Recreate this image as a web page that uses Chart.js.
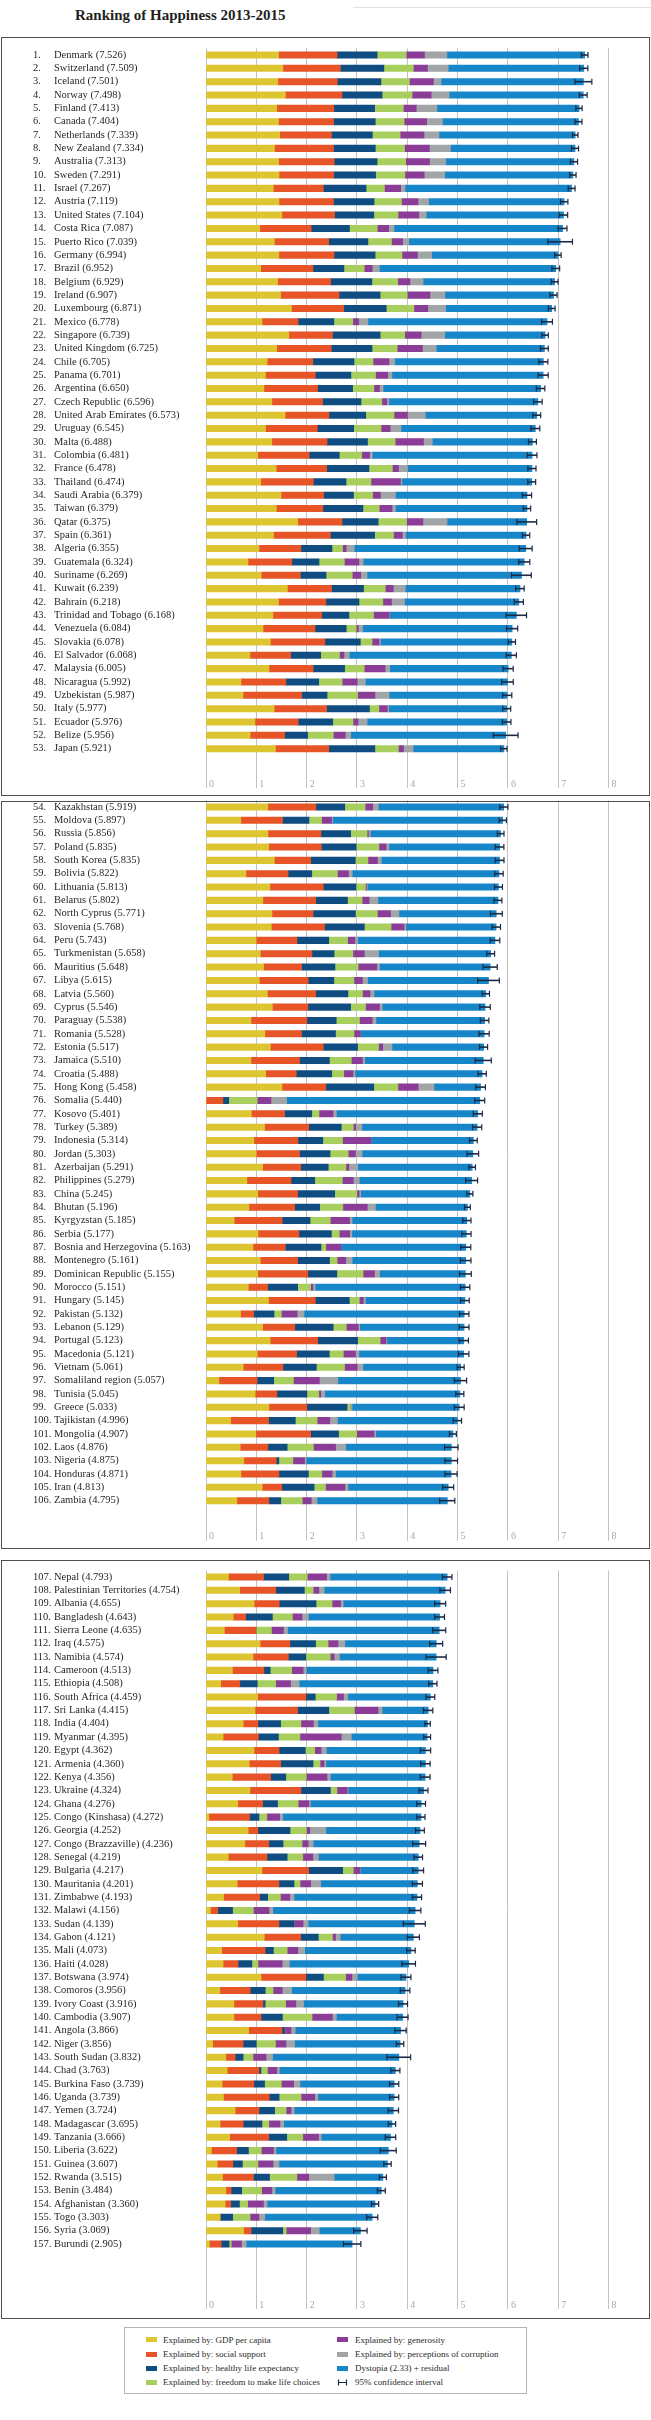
<!DOCTYPE html>
<html>
<head>
<meta charset="utf-8">
<title>Ranking of Happiness 2013-2015</title>
<script src="https://cdn.jsdelivr.net/npm/chart.js@4.4.1/dist/chart.umd.min.js"></script>
<style>
  html, body { margin:0; padding:0; background:#fff; }
  body { position:relative; width:651px; height:2420px; overflow:hidden; font-family:"Liberation Serif", "DejaVu Serif", serif; color:#231f20; }
  #title { position:absolute; left:75px; top:6px; font-size:15px; line-height:18px; font-weight:bold; white-space:nowrap; }
  #topline { position:absolute; left:353px; top:7px; width:298px; height:0; border-top:1px solid #e2e2e2; }
  .panel { position:absolute; left:1px; width:649px; box-sizing:border-box; border:1.5px solid #4f4f4f; pointer-events:none; }
  canvas.chart { position:absolute; left:0; }
  #legend { position:absolute; left:124px; top:2327px; width:403px; height:67px; box-sizing:border-box; border:1px solid #b4b4b4; }
  .li { position:absolute; font-size:9px; line-height:12px; height:12px; white-space:nowrap; color:#2b2b2b; }
  .sw { position:absolute; width:11px; height:5px; }
</style>
</head>
<body>
<div id="title">Ranking of Happiness 2013-2015</div>
<div id="topline"></div>
<div id="legend"></div>
<script>
// ---------------- DATA ----------------
const countries = [
 'Denmark','Switzerland','Iceland','Norway','Finland','Canada','Netherlands','New Zealand','Australia','Sweden',
 'Israel','Austria','United States','Costa Rica','Puerto Rico','Germany','Brazil','Belgium','Ireland','Luxembourg',
 'Mexico','Singapore','United Kingdom','Chile','Panama','Argentina','Czech Republic','United Arab Emirates','Uruguay','Malta',
 'Colombia','France','Thailand','Saudi Arabia','Taiwan','Qatar','Spain','Algeria','Guatemala','Suriname',
 'Kuwait','Bahrain','Trinidad and Tobago','Venezuela','Slovakia','El Salvador','Malaysia','Nicaragua','Uzbekistan','Italy',
 'Ecuador','Belize','Japan',
 'Kazakhstan','Moldova','Russia','Poland','South Korea','Bolivia','Lithuania','Belarus','North Cyprus','Slovenia',
 'Peru','Turkmenistan','Mauritius','Libya','Latvia','Cyprus','Paraguay','Romania','Estonia','Jamaica',
 'Croatia','Hong Kong','Somalia','Kosovo','Turkey','Indonesia','Jordan','Azerbaijan','Philippines','China',
 'Bhutan','Kyrgyzstan','Serbia','Bosnia and Herzegovina','Montenegro','Dominican Republic','Morocco','Hungary','Pakistan','Lebanon',
 'Portugal','Macedonia','Vietnam','Somaliland region','Tunisia','Greece','Tajikistan','Mongolia','Laos','Nigeria',
 'Honduras','Iran','Zambia',
 'Nepal','Palestinian Territories','Albania','Bangladesh','Sierra Leone','Iraq','Namibia','Cameroon','Ethiopia','South Africa',
 'Sri Lanka','India','Myanmar','Egypt','Armenia','Kenya','Ukraine','Ghana','Congo (Kinshasa)','Georgia',
 'Congo (Brazzaville)','Senegal','Bulgaria','Mauritania','Zimbabwe','Malawi','Sudan','Gabon','Mali','Haiti',
 'Botswana','Comoros','Ivory Coast','Cambodia','Angola','Niger','South Sudan','Chad','Burkina Faso','Uganda',
 'Yemen','Madagascar','Tanzania','Liberia','Guinea','Rwanda','Benin','Afghanistan','Togo','Syria',
 'Burundi'
];
const scores = [
 7.526,7.509,7.501,7.498,7.413,7.404,7.339,7.334,7.313,7.291,
 7.267,7.119,7.104,7.087,7.039,6.994,6.952,6.929,6.907,6.871,
 6.778,6.739,6.725,6.705,6.701,6.650,6.596,6.573,6.545,6.488,
 6.481,6.478,6.474,6.379,6.379,6.375,6.361,6.355,6.324,6.269,
 6.239,6.218,6.168,6.084,6.078,6.068,6.005,5.992,5.987,5.977,
 5.976,5.956,5.921,
 5.919,5.897,5.856,5.835,5.835,5.822,5.813,5.802,5.771,5.768,
 5.743,5.658,5.648,5.615,5.560,5.546,5.538,5.528,5.517,5.510,
 5.488,5.458,5.440,5.401,5.389,5.314,5.303,5.291,5.279,5.245,
 5.196,5.185,5.177,5.163,5.161,5.155,5.151,5.145,5.132,5.129,
 5.123,5.121,5.061,5.057,5.045,5.033,4.996,4.907,4.876,4.875,
 4.871,4.813,4.795,
 4.793,4.754,4.655,4.643,4.635,4.575,4.574,4.513,4.508,4.459,
 4.415,4.404,4.395,4.362,4.360,4.356,4.324,4.276,4.272,4.252,
 4.236,4.219,4.217,4.201,4.193,4.156,4.139,4.121,4.073,4.028,
 3.974,3.956,3.916,3.907,3.866,3.856,3.832,3.763,3.739,3.739,
 3.724,3.695,3.666,3.622,3.607,3.515,3.484,3.360,3.303,3.069,
 2.905
];
const gdp = [
 1.442,1.527,1.427,1.577,1.406,1.440,1.465,1.361,1.444,1.452,
 1.338,1.450,1.508,1.069,1.359,1.448,1.088,1.425,1.483,1.698,
 1.115,1.646,1.403,1.217,1.183,1.151,1.309,1.574,1.182,1.308,
 1.030,1.395,1.089,1.490,1.397,1.824,1.343,1.053,0.835,1.097,
 1.617,1.440,1.330,1.134,1.280,0.874,1.251,0.694,0.736,1.355,
 0.973,0.876,1.380,
 1.229,0.692,1.232,1.246,1.359,0.794,1.269,1.131,1.311,1.299,
 0.996,1.080,1.144,1.060,1.220,1.319,0.894,1.170,1.280,0.893,
 1.186,1.511,0.000,0.901,1.165,0.951,0.997,1.124,0.812,1.028,
 0.853,0.560,1.034,0.934,1.078,1.028,0.841,1.241,0.688,1.123,
 1.276,1.020,0.740,0.256,0.977,1.249,0.488,0.989,0.680,0.752,
 0.694,1.118,0.612,
 0.446,0.670,0.955,0.542,0.365,1.075,0.933,0.525,0.293,1.024,
 0.973,0.740,0.341,0.954,0.861,0.523,0.873,0.631,0.057,0.838,
 0.771,0.443,1.113,0.620,0.350,0.087,0.631,1.159,0.313,0.341,
 1.094,0.275,0.555,0.556,0.847,0.133,0.394,0.422,0.320,0.347,
 0.579,0.280,0.472,0.107,0.224,0.328,0.395,0.382,0.281,0.747,
 0.068
];
const socialSupport = [
 1.164,1.145,1.183,1.127,1.135,1.096,1.029,1.173,1.105,1.088,
 0.995,1.084,1.048,1.022,1.081,1.098,1.039,1.052,1.162,1.040,
 0.715,0.868,1.087,0.906,0.989,1.066,1.008,0.871,1.031,1.099,
 1.022,1.005,1.045,0.848,0.926,0.880,1.129,0.833,0.871,0.779,
 0.878,0.944,0.970,1.033,1.083,0.810,0.880,0.895,1.168,1.042,
 0.860,0.687,1.061,
 0.955,0.831,1.053,1.047,0.722,0.838,1.064,1.050,0.818,1.056,
 0.813,1.026,0.757,0.970,0.960,0.707,1.111,0.728,1.052,0.964,
 0.608,0.870,0.336,0.661,0.877,0.876,0.862,0.760,0.879,0.794,
 0.908,0.954,0.813,0.644,0.742,0.995,0.386,0.932,0.261,0.642,
 0.944,0.780,0.791,0.759,0.432,0.755,0.756,1.090,0.550,0.645,
 0.756,0.389,0.638,
 0.697,0.716,0.502,0.247,0.628,0.592,0.704,0.625,0.379,0.961,
 0.848,0.292,0.700,0.498,0.625,0.762,1.014,0.494,0.807,0.192,
 0.478,0.770,0.925,0.830,0.715,0.147,0.819,0.724,0.863,0.296,
 0.892,0.603,0.576,0.538,0.664,0.605,0.185,0.632,0.631,0.910,
 0.475,0.461,0.776,0.504,0.311,0.616,0.104,0.110,0.000,0.149,
 0.234
];
const lifeExpectancy = [
 0.795,0.863,0.867,0.796,0.811,0.828,0.812,0.831,0.851,0.831,
 0.849,0.806,0.779,0.761,0.778,0.815,0.614,0.820,0.815,0.845,
 0.711,0.947,0.810,0.819,0.708,0.697,0.764,0.730,0.722,0.803,
 0.597,0.838,0.649,0.593,0.796,0.717,0.879,0.618,0.540,0.509,
 0.636,0.657,0.540,0.619,0.704,0.596,0.624,0.652,0.502,0.851,
 0.686,0.456,0.915,
 0.574,0.523,0.590,0.691,0.886,0.470,0.647,0.631,0.841,0.792,
 0.630,0.440,0.662,0.510,0.640,0.849,0.583,0.676,0.681,0.595,
 0.705,0.953,0.115,0.540,0.647,0.494,0.607,0.545,0.470,0.736,
 0.498,0.554,0.645,0.708,0.635,0.577,0.595,0.676,0.403,0.762,
 0.794,0.650,0.662,0.331,0.596,0.800,0.531,0.555,0.383,0.051,
 0.584,0.642,0.236,
 0.501,0.568,0.730,0.530,0.000,0.511,0.347,0.127,0.346,0.186,
 0.620,0.451,0.399,0.521,0.641,0.301,0.586,0.297,0.188,0.640,
 0.282,0.400,0.678,0.300,0.160,0.294,0.298,0.349,0.163,0.275,
 0.348,0.300,0.045,0.425,0.050,0.262,0.158,0.038,0.213,0.196,
 0.310,0.371,0.357,0.232,0.188,0.319,0.210,0.173,0.248,0.630,
 0.157
];
const freedom = [
 0.579,0.586,0.566,0.596,0.571,0.574,0.552,0.581,0.568,0.582,
 0.364,0.544,0.482,0.552,0.468,0.535,0.404,0.514,0.540,0.549,
 0.377,0.488,0.500,0.378,0.489,0.423,0.414,0.562,0.544,0.550,
 0.447,0.466,0.496,0.379,0.324,0.567,0.375,0.210,0.504,0.522,
 0.432,0.474,0.490,0.198,0.234,0.373,0.390,0.466,0.608,0.188,
 0.403,0.512,0.468,
 0.405,0.252,0.327,0.452,0.252,0.510,0.189,0.291,0.436,0.532,
 0.375,0.374,0.461,0.400,0.290,0.295,0.462,0.367,0.415,0.436,
 0.239,0.481,0.568,0.144,0.239,0.392,0.360,0.353,0.549,0.440,
 0.461,0.402,0.157,0.095,0.151,0.523,0.256,0.198,0.146,0.262,
 0.447,0.280,0.560,0.391,0.236,0.058,0.434,0.360,0.522,0.279,
 0.268,0.227,0.427,
 0.370,0.177,0.319,0.398,0.307,0.249,0.486,0.427,0.367,0.425,
 0.508,0.403,0.427,0.188,0.140,0.406,0.129,0.410,0.156,0.325,
 0.379,0.310,0.212,0.120,0.254,0.414,0.000,0.281,0.275,0.121,
 0.441,0.154,0.407,0.589,0.006,0.380,0.197,0.128,0.334,0.437,
 0.229,0.137,0.318,0.257,0.310,0.543,0.397,0.164,0.347,0.069,
 0.043
];
const generosity = [
 0.362,0.281,0.477,0.379,0.255,0.448,0.474,0.494,0.474,0.383,
 0.323,0.329,0.411,0.226,0.222,0.305,0.158,0.242,0.450,0.276,
 0.117,0.327,0.502,0.316,0.242,0.110,0.099,0.266,0.181,0.562,
 0.156,0.122,0.587,0.155,0.255,0.324,0.177,0.070,0.288,0.167,
 0.160,0.171,0.310,0.043,0.138,0.089,0.415,0.298,0.343,0.167,
 0.101,0.237,0.102,
 0.150,0.200,0.027,0.144,0.188,0.217,0.020,0.139,0.263,0.257,
 0.145,0.226,0.370,0.170,0.150,0.279,0.253,0.129,0.084,0.222,
 0.184,0.401,0.272,0.280,0.047,0.565,0.143,0.056,0.217,0.045,
 0.485,0.384,0.207,0.299,0.172,0.225,0.045,0.080,0.312,0.237,
 0.117,0.240,0.251,0.515,0.039,0.000,0.252,0.345,0.440,0.232,
 0.204,0.385,0.179,
 0.382,0.112,0.168,0.191,0.239,0.196,0.078,0.227,0.295,0.137,
 0.470,0.250,0.820,0.127,0.078,0.413,0.204,0.212,0.255,0.068,
 0.121,0.200,0.128,0.210,0.185,0.310,0.181,0.062,0.211,0.480,
 0.124,0.183,0.203,0.403,0.121,0.210,0.259,0.187,0.244,0.271,
 0.098,0.220,0.315,0.241,0.299,0.236,0.202,0.313,0.175,0.484,
 0.203
];
const corruption = [
 0.445,0.412,0.150,0.358,0.410,0.313,0.299,0.419,0.323,0.409,
 0.087,0.213,0.149,0.105,0.123,0.286,0.142,0.262,0.298,0.353,
 0.184,0.470,0.274,0.115,0.084,0.073,0.040,0.356,0.214,0.176,
 0.054,0.178,0.028,0.300,0.066,0.480,0.061,0.162,0.087,0.127,
 0.237,0.258,0.012,0.083,0.029,0.106,0.091,0.163,0.283,0.026,
 0.180,0.108,0.190,
 0.111,0.019,0.036,0.055,0.077,0.077,0.018,0.175,0.166,0.036,
 0.053,0.285,0.052,0.100,0.080,0.052,0.074,0.007,0.185,0.043,
 0.040,0.316,0.312,0.065,0.123,0.003,0.133,0.179,0.118,0.030,
 0.162,0.048,0.043,0.000,0.127,0.103,0.046,0.040,0.139,0.031,
 0.015,0.070,0.116,0.368,0.082,0.041,0.151,0.032,0.200,0.031,
 0.069,0.060,0.115,
 0.070,0.106,0.053,0.126,0.082,0.136,0.104,0.061,0.172,0.084,
 0.080,0.087,0.202,0.104,0.036,0.067,0.018,0.031,0.061,0.319,
 0.098,0.110,0.006,0.200,0.086,0.076,0.100,0.093,0.136,0.145,
 0.108,0.184,0.154,0.081,0.084,0.172,0.130,0.050,0.125,0.064,
 0.059,0.075,0.051,0.049,0.119,0.505,0.067,0.071,0.116,0.172,
 0.094
];
const dystopia = [
 2.739,2.695,2.831,2.665,2.826,2.705,2.707,2.476,2.547,2.547,
 3.310,2.693,2.728,3.352,3.008,2.509,3.507,2.614,2.160,2.111,
 3.559,1.994,2.150,2.955,3.006,3.130,2.962,2.215,2.671,1.990,
 3.175,2.474,2.580,2.615,2.615,1.582,2.397,3.409,3.199,3.069,
 2.281,2.274,2.516,2.975,2.611,3.221,2.354,2.824,2.346,2.349,
 2.774,3.080,1.806,
 2.493,3.380,2.591,2.200,2.350,2.916,2.605,2.386,1.933,1.794,
 2.731,2.227,2.202,2.405,2.220,2.045,2.161,2.452,1.821,2.357,
 2.525,0.926,3.838,2.810,2.291,2.032,2.201,2.274,2.235,2.172,
 1.829,2.281,2.275,2.484,2.255,1.704,2.982,1.978,3.183,2.073,
 1.530,2.081,1.942,2.438,2.684,2.129,2.384,1.537,2.101,2.886,
 2.296,1.992,2.590,
 2.327,2.404,1.928,2.609,3.014,1.817,1.922,2.521,2.656,1.642,
 0.917,2.180,1.507,1.969,1.979,1.883,1.501,2.202,2.749,1.870,
 2.107,1.986,1.154,1.921,2.443,2.829,2.110,1.453,2.112,2.371,
 0.967,2.257,1.976,1.316,2.095,2.095,2.509,2.306,1.873,1.514,
 1.973,2.151,1.378,2.233,2.156,0.968,2.108,2.146,2.135,0.818,
 2.104
];
const ciLow = [
 7.460,7.428,7.333,7.421,7.351,7.335,7.284,7.264,7.241,7.227,
 7.199,7.045,7.020,6.999,6.794,6.930,6.875,6.861,6.836,6.804,
 6.670,6.674,6.647,6.615,6.601,6.565,6.511,6.494,6.456,6.409,
 6.384,6.397,6.396,6.287,6.305,6.178,6.288,6.227,6.213,6.073,
 6.154,6.128,5.965,5.973,6.005,5.967,5.904,5.877,5.896,5.898,
 5.891,5.710,5.858,
 5.837,5.823,5.789,5.749,5.747,5.737,5.734,5.723,5.653,5.683,
 5.647,5.580,5.507,5.400,5.486,5.442,5.453,5.427,5.437,5.350,
 5.405,5.362,5.341,5.310,5.298,5.237,5.187,5.226,5.160,5.185,
 5.138,5.103,5.086,5.063,5.055,5.037,5.058,5.058,5.038,5.031,
 5.030,5.017,4.991,4.934,4.965,4.935,4.913,4.838,4.742,4.750,
 4.750,4.703,4.645,
 4.698,4.649,4.546,4.546,4.505,4.446,4.374,4.417,4.425,4.371,
 4.322,4.351,4.327,4.259,4.266,4.259,4.236,4.189,4.191,4.164,
 4.107,4.134,4.109,4.100,4.101,4.041,3.920,4.000,3.988,3.893,
 3.875,3.860,3.826,3.798,3.753,3.781,3.596,3.672,3.647,3.647,
 3.621,3.621,3.561,3.463,3.533,3.444,3.404,3.288,3.192,2.936,
 2.732
];
const ciHigh = [
 7.592,7.590,7.669,7.575,7.475,7.473,7.394,7.404,7.385,7.355,
 7.335,7.193,7.188,7.175,7.284,7.058,7.029,6.997,6.978,6.938,
 6.886,6.804,6.803,6.795,6.801,6.735,6.681,6.652,6.634,6.567,
 6.578,6.559,6.552,6.471,6.453,6.572,6.434,6.483,6.435,6.465,
 6.324,6.308,6.371,6.195,6.151,6.169,6.106,6.107,6.078,6.056,
 6.061,6.202,5.984,
 6.001,5.971,5.923,5.921,5.923,5.907,5.892,5.881,5.889,5.853,
 5.839,5.736,5.789,5.830,5.634,5.650,5.623,5.629,5.597,5.670,
 5.571,5.554,5.539,5.492,5.480,5.391,5.419,5.356,5.398,5.305,
 5.254,5.267,5.268,5.263,5.267,5.273,5.244,5.232,5.226,5.227,
 5.216,5.225,5.131,5.180,5.125,5.131,5.079,4.976,5.010,5.000,
 4.992,4.923,4.945,
 4.888,4.859,4.764,4.740,4.765,4.704,4.774,4.609,4.591,4.547,
 4.508,4.457,4.463,4.465,4.454,4.453,4.412,4.363,4.353,4.340,
 4.365,4.304,4.325,4.302,4.285,4.271,4.358,4.242,4.158,4.163,
 4.073,4.052,4.006,4.016,3.979,3.931,4.068,3.854,3.831,3.831,
 3.827,3.769,3.771,3.781,3.681,3.586,3.564,3.432,3.414,3.202,
 3.078
];
const seriesLabels = [
 'Explained by: GDP per capita',
 'Explained by: social support',
 'Explained by: healthy life expectancy',
 'Explained by: freedom to make life choices',
 'Explained by: generosity',
 'Explained by: perceptions of corruption',
 'Dystopia (2.33) + residual'
];
const seriesColors = ['#dcc530','#e65428','#0f4c81','#a8cf5e','#8a3c96','#a2a5a8','#1786c8'];
const ciLabel = '95% confidence interval';
const ciColor = '#1b2b47';
const xMin = 0, xMax = 8, xStep = 1;

// ---------------- LAYOUT ----------------
const seriesValues = [gdp, socialSupport, lifeExpectancy, freedom, generosity, corruption, dystopia];
const ROW_PX = 13.34;
const PLOT_LEFT = 206, PLOT_RIGHT = 608.5, PAGE_W = 651;
// canvas top/height (page px), y of the first row centre and bottom end of the grid lines
const panelLayout = [
  {first:1,   last:53,  canvasTop:37,   canvasH:759, boxTop:37,   boxH:759, firstRowY:55,   gridBottom:788},
  {first:54,  last:106, canvasTop:800,  canvasH:749, boxTop:801,  boxH:748, firstRowY:807,  gridBottom:1540.7},
  {first:107, last:157, canvasTop:1560, canvasH:759, boxTop:1560, boxH:759, firstRowY:1577, gridBottom:2309}
];

const rowLabelPlugin = {
  id: 'rowLabels',
  afterDraw(chart, args, opts) {
    const ctx = chart.ctx, y = chart.scales.y;
    ctx.save();
    ctx.font = '10.5px "Liberation Serif"';
    ctx.fillStyle = '#231f20';
    ctx.textBaseline = 'middle';
    ctx.textAlign = 'left';
    for (let r = opts.first; r <= opts.last; r++) {
      const py = y.getPixelForValue(r - opts.first);
      ctx.fillText(r + '.', 33, py);
      ctx.fillText(countries[r - 1] + ' (' + scores[r - 1].toFixed(3) + ')', 54, py);
    }
    ctx.restore();
  }
};

const ciPlugin = {
  id: 'ciWhiskers',
  afterDatasetsDraw(chart, args, opts) {
    const ctx = chart.ctx, x = chart.scales.x, y = chart.scales.y;
    ctx.save();
    ctx.strokeStyle = ciColor;
    for (let r = opts.first; r <= opts.last; r++) {
      const py = y.getPixelForValue(r - opts.first);
      const a = x.getPixelForValue(ciLow[r - 1]);
      const b = x.getPixelForValue(ciHigh[r - 1]);
      ctx.lineWidth = 1.6;
      ctx.beginPath();
      ctx.moveTo(a, py); ctx.lineTo(b, py);
      ctx.stroke();
      ctx.lineWidth = 1.2;
      ctx.beginPath();
      ctx.moveTo(a, py - 3); ctx.lineTo(a, py + 3);
      ctx.moveTo(b, py - 3); ctx.lineTo(b, py + 3);
      ctx.stroke();
    }
    ctx.restore();
  }
};

function buildPanel(p) {
  const canvas = document.createElement('canvas');
  canvas.className = 'chart';
  canvas.width = PAGE_W;
  canvas.height = p.canvasH;
  canvas.style.top = p.canvasTop + 'px';
  canvas.style.width = PAGE_W + 'px';
  canvas.style.height = p.canvasH + 'px';
  document.body.appendChild(canvas);

  const frame = document.createElement('div');
  frame.className = 'panel';
  frame.style.top = p.boxTop + 'px';
  frame.style.height = p.boxH + 'px';
  document.body.appendChild(frame);

  const ranks = [];
  for (let r = p.first; r <= p.last; r++) ranks.push(String(r));
  const n = ranks.length;
  const areaTop = p.firstRowY - ROW_PX / 2 - p.canvasTop;
  const areaBottom = areaTop + n * ROW_PX;
  const gridBottomC = p.gridBottom - p.canvasTop;
  const tickLen = gridBottomC - areaBottom;
  const labelCenter = gridBottomC - 4;
  const tickPad = labelCenter - areaBottom - tickLen - 6;

  const datasets = seriesValues.map((vals, i) => ({
    label: seriesLabels[i],
    data: vals.slice(p.first - 1, p.last),
    backgroundColor: seriesColors[i],
    borderWidth: 0,
    barThickness: 6.4
  }));

  new Chart(canvas, {
    type: 'bar',
    data: {labels: ranks, datasets},
    options: {
      indexAxis: 'y',
      responsive: false,
      animation: false,
      events: [],
      layout: {padding: {left: PLOT_LEFT, right: PAGE_W - PLOT_RIGHT, top: areaTop, bottom: 0}},
      plugins: {
        legend: {display: false},
        tooltip: {enabled: false},
        rowLabels: {first: p.first, last: p.last},
        ciWhiskers: {first: p.first, last: p.last}
      },
      scales: {
        x: {
          type: 'linear', stacked: true, min: xMin, max: xMax, position: 'bottom',
          ticks: {stepSize: xStep, color: '#a9a9a9', font: {family: 'Liberation Serif', size: 10},
                  align: 'start', labelOffset: 3, padding: tickPad, autoSkip: false, maxRotation: 0},
          grid: {color: '#c2c2c2', lineWidth: 1, drawTicks: true, tickLength: tickLen, tickColor: '#c2c2c2'},
          border: {display: false},
          afterFit: (s) => { s.height = p.canvasH - areaBottom; }
        },
        y: {type: 'category', stacked: true, offset: true, display: false}
      }
    },
    plugins: [rowLabelPlugin, ciPlugin]
  });
}

panelLayout.forEach(buildPanel);

// ---------------- LEGEND ----------------
(function buildLegend() {
  const lg = document.getElementById('legend');
  const cols = [{sw: 21, tx: 38}, {sw: 212, tx: 230}];
  const rowsY = [11.7, 26, 40, 54];
  const items = seriesLabels.map((l, i) => ({label: l, color: seriesColors[i]}));
  items.push({label: ciLabel, ci: true});
  items.forEach((it, i) => {
    const col = cols[i < 4 ? 0 : 1];
    const cy = rowsY[i < 4 ? i : i - 4];
    if (it.ci) {
      const s = document.createElementNS('http://www.w3.org/2000/svg', 'svg');
      s.setAttribute('width', '11'); s.setAttribute('height', '7');
      s.style.position = 'absolute';
      s.style.left = col.sw + 'px';
      s.style.top = (cy - 3.5) + 'px';
      s.innerHTML = '<path d="M1.5 0.5V6.5M9.5 0.5V6.5M1.5 3.5H9.5" stroke="' + ciColor + '" stroke-width="1.2" fill="none"/>';
      lg.appendChild(s);
    } else {
      const sw = document.createElement('div');
      sw.className = 'sw';
      sw.style.left = col.sw + 'px';
      sw.style.top = (cy - 2.5) + 'px';
      sw.style.background = it.color;
      lg.appendChild(sw);
    }
    const t = document.createElement('div');
    t.className = 'li';
    t.style.left = col.tx + 'px';
    t.style.top = (cy - 6) + 'px';
    t.textContent = it.label;
    lg.appendChild(t);
  });
})();
</script>
</body>
</html>
